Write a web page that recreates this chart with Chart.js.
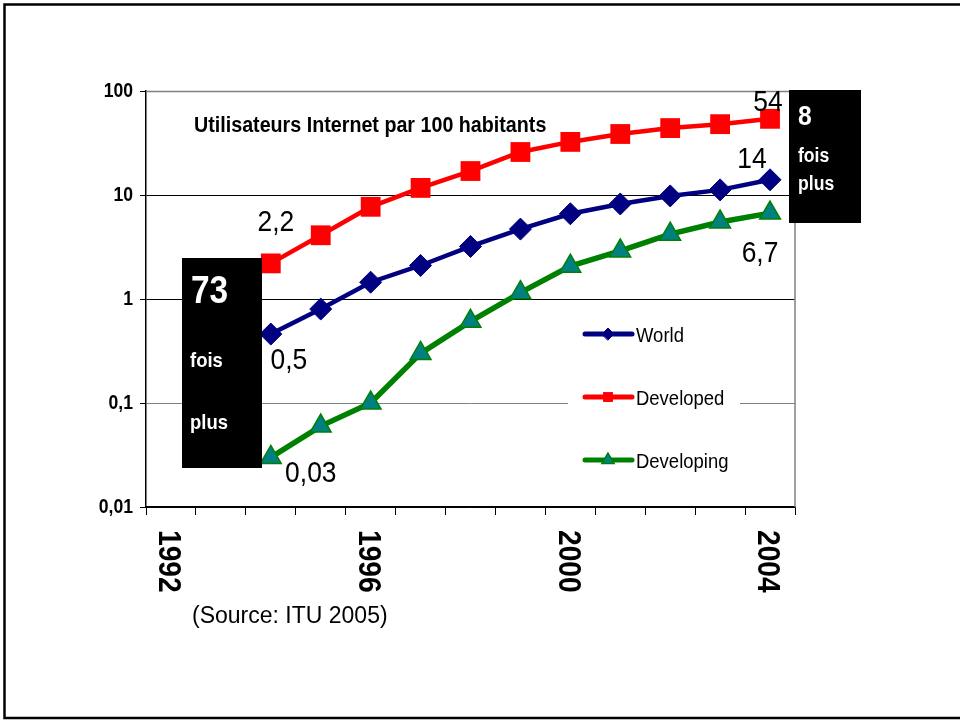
<!DOCTYPE html>
<html>
<head>
<meta charset="utf-8">
<script src="https://cdn.jsdelivr.net/npm/chart.js@4.4.1/dist/chart.umd.min.js"></script>
<style>
  html, body { margin: 0; padding: 0; background: #fff; }
  #wrap { width: 960px; height: 721px; }
</style>
</head>
<body>
<div id="wrap"><canvas id="usersChart" width="960" height="721"></canvas></div>
<script>
// --- DATA ---
const years = ['1992', '1993', '1994', '1995', '1996', '1997', '1998', '1999', '2000', '2001', '2002', '2003', '2004'];
const world = [null, null, 0.46, 0.8, 1.45, 2.1, 3.2, 4.7, 6.6, 8.2, 9.8, 11.2, 14];
const developed = [null, null, 2.2, 4.1, 7.7, 11.7, 17, 25.9, 32.4, 38.6, 44, 48, 54];
const developing = [null, null, 0.03, 0.06, 0.1, 0.3, 0.61, 1.15, 2.07, 2.9, 4.2, 5.5, 6.7];
const seriesNames = ['World', 'Developed', 'Developing'];
const yTicks = [0.01, 0.1, 1, 10, 100];
const yTickLabels = ['0,01', '0,1', '1', '10', '100'];
const xTickLabels = ['1992', '1996', '2000', '2004'];

const FONT = '"Liberation Sans", Arial, sans-serif';
const NARROW = 0.88;

function drawText(ctx, str, x, y, o) {
    ctx.save();
    ctx.font = (o.bold ? 'bold ' : '') + o.size + 'px ' + FONT;
    ctx.fillStyle = o.color || '#000';
    ctx.textAlign = o.align || 'left';
    ctx.textBaseline = o.baseline || 'alphabetic';
    ctx.translate(x, y);
    if (o.rotate) ctx.rotate(o.rotate);
    ctx.scale(o.sx === undefined ? NARROW : o.sx, 1);
    ctx.fillText(str, 0, 0);
    ctx.restore();
}

// labels at the ends of the series: [dataset, index, text, dx, dy]
const endLabels = [
    [1, 2, '2,2', 5, -32],
    [0, 2, '0,5', 18, 35],
    [2, 2, '0,03', 40, 25],
    [1, 12, '54', -2, -8],
    [0, 12, '14', -18, -12],
    [2, 12, '6,7', -10, 49]
];

const decorations = {
    id: 'decorations',
    beforeDraw(chart) {
        const ctx = chart.ctx;
        ctx.save();
        ctx.fillStyle = '#fff';
        ctx.fillRect(0, 0, chart.width, chart.height);
        ctx.restore();
    },
    afterDatasetsDraw(chart) {
        const ctx = chart.ctx;
        const area = chart.chartArea;
        const xs = chart.scales.x;
        const ys = chart.scales.y;

        // plot frame (top/right in grey)
        ctx.save();
        ctx.strokeStyle = '#808080';
        ctx.lineWidth = 1.5;
        ctx.beginPath();
        ctx.moveTo(area.left, area.top + 0.5);
        ctx.lineTo(area.right, area.top + 0.5);
        ctx.lineTo(area.right, area.bottom);
        ctx.stroke();
        ctx.restore();

        // y tick labels
        yTicks.forEach((v, i) => {
            drawText(ctx, yTickLabels[i], 133, ys.getPixelForValue(v), { size: 20, bold: true, align: 'right', baseline: 'middle' });
        });

        // x tick labels, rotated clockwise
        xTickLabels.forEach(lbl => {
            const px = xs.getPixelForValue(years.indexOf(lbl));
            drawText(ctx, lbl, px - 3, area.bottom + 23, { size: 32, bold: true, baseline: 'middle', rotate: Math.PI / 2 });
        });

        // title
        drawText(ctx, 'Utilisateurs Internet par 100 habitants', 194, 132, { size: 22, bold: true, sx: 0.895 });

        // legend
        ctx.save();
        ctx.fillStyle = '#fff';
        ctx.fillRect(568, 312, 172, 176);
        ctx.restore();
        const legendY = [334, 397, 460];
        const legendR = [6, 7, 7];
        chart.data.datasets.forEach((ds, i) => {
            const y = legendY[i];
            ctx.save();
            ctx.strokeStyle = ds.borderColor;
            ctx.lineWidth = 5;
            ctx.lineCap = 'round';
            ctx.beginPath();
            ctx.moveTo(585, y);
            ctx.lineTo(632, y);
            ctx.stroke();
            ctx.fillStyle = ds.pointBackgroundColor;
            ctx.strokeStyle = ds.pointBorderColor;
            ctx.lineWidth = ds.pointBorderWidth;
            Chart.helpers.drawPoint(ctx, { pointStyle: ds.pointStyle, radius: legendR[i], borderWidth: ds.pointBorderWidth, rotation: 0 }, 608, y);
            ctx.restore();
            drawText(ctx, seriesNames[i], 636, y + 8, { size: 21 });
        });

        // value labels
        endLabels.forEach(([d, idx, txt, dx, dy]) => {
            const val = chart.data.datasets[d].data[idx];
            const px = xs.getPixelForValue(idx);
            const py = ys.getPixelForValue(val);
            drawText(ctx, txt, px + dx, py + dy, { size: 30, align: 'center' });
        });

        // black boxes
        ctx.save();
        ctx.fillStyle = '#000';
        ctx.fillRect(182, 258, 80, 210);
        ctx.fillRect(789, 90, 72, 133);
        ctx.restore();
        drawText(ctx, '73', 191, 303, { size: 38, bold: true, color: '#fff' });
        drawText(ctx, 'fois', 190, 367, { size: 21, bold: true, color: '#fff' });
        drawText(ctx, 'plus', 190, 429, { size: 21, bold: true, color: '#fff' });
        drawText(ctx, '8', 798, 125, { size: 28, bold: true, color: '#fff' });
        drawText(ctx, 'fois', 798, 162, { size: 20, bold: true, color: '#fff' });
        drawText(ctx, 'plus', 798, 190, { size: 20, bold: true, color: '#fff' });

        // source
        drawText(ctx, '(Source: ITU 2005)', 192, 623, { size: 23, sx: 1 });

        // outer frame
        ctx.save();
        ctx.strokeStyle = '#000';
        ctx.lineWidth = 2.5;
        ctx.strokeRect(4.5, 4.5, 980, 713.5);
        ctx.restore();
    }
};

document.addEventListener('DOMContentLoaded', () => {
    const ctx = document.getElementById('usersChart');
    new Chart(ctx, {
        type: 'line',
        data: {
            labels: years,
            datasets: [{
                label: seriesNames[0],
                data: world,
                borderColor: '#000080',
                backgroundColor: '#000080',
                pointBackgroundColor: '#000080',
                pointBorderColor: '#000080',
                pointStyle: 'rectRot',
                pointRadius: 11,
                pointBorderWidth: 1,
                borderWidth: 4.5
            }, {
                label: seriesNames[1],
                data: developed,
                borderColor: '#ff0000',
                backgroundColor: '#ff0000',
                pointBackgroundColor: '#ff0000',
                pointBorderColor: '#ff0000',
                pointStyle: 'rect',
                pointRadius: 14,
                pointBorderWidth: 0,
                borderWidth: 4.5
            }, {
                label: seriesNames[2],
                data: developing,
                borderColor: '#008000',
                backgroundColor: '#008080',
                pointBackgroundColor: '#008080',
                pointBorderColor: '#008000',
                pointStyle: 'triangle',
                pointRadius: 12,
                pointBorderWidth: 1.5,
                borderWidth: 5.5
            }]
        },
        options: {
            responsive: false,
            animation: false,
            devicePixelRatio: 1,
            layout: { padding: { top: 91, right: 165, left: 0, bottom: 0 } },
            plugins: {
                legend: { display: false },
                title: { display: false },
                tooltip: { enabled: false }
            },
            scales: {
                x: {
                    type: 'category',
                    offset: true,
                    afterFit: (scale) => { scale.height = 214; },
                    grid: {
                        offset: true,
                        drawOnChartArea: false,
                        drawTicks: true,
                        tickLength: 8,
                        color: '#000',
                        lineWidth: 1
                    },
                    border: { color: '#000', width: 1.5 },
                    ticks: { display: false }
                },
                y: {
                    type: 'logarithmic',
                    min: 0.01,
                    max: 100,
                    afterFit: (scale) => { scale.width = 146; },
                    afterBuildTicks: (scale) => {
                        scale.ticks = yTicks.map(v => ({ value: v, major: true }));
                    },
                    grid: {
                        color: (c) => (c.tick && (c.tick.value === 0.1 || c.tick.value === 100)) ? '#808080' : '#000',
                        lineWidth: 1,
                        drawTicks: true,
                        tickLength: 6,
                        tickColor: '#000'
                    },
                    border: { color: '#000', width: 1.5 },
                    ticks: { display: false }
                }
            }
        },
        plugins: [decorations]
    });
});
</script>
</body>
</html>
